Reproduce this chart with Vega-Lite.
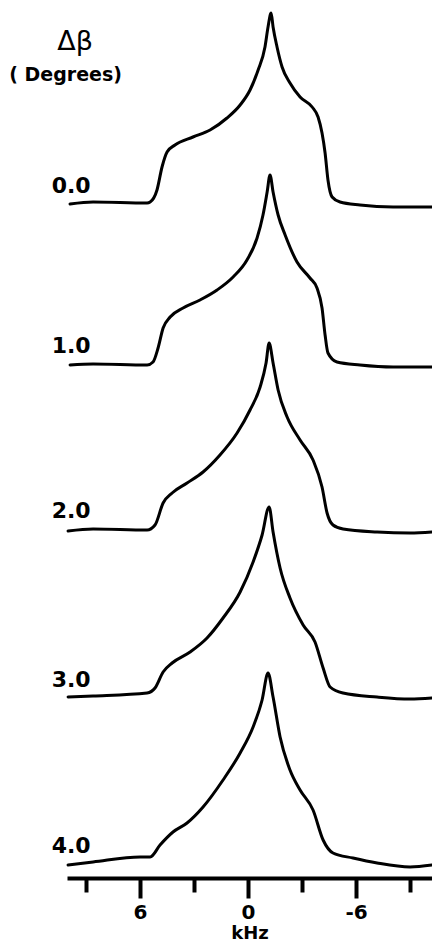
{
  "$schema": "https://vega.github.io/schema/vega-lite/v6.json",
  "width": 365,
  "height": 878,
  "autosize": {"type": "none"},
  "padding": {"left": 67, "top": 0, "right": 0, "bottom": 65},
  "background": "white",
  "config": {"view": {"stroke": null}},
  "datasets": {
    "spectra": [
      {"t":"0.0","k":9.89,"v":674},{"t":"0.0","k":8.61,"v":676},{"t":"0.0","k":5.61,"v":675},{"t":"0.0","k":5.44,"v":676},{"t":"0.0","k":5.06,"v":688},{"t":"0.0","k":4.78,"v":711},{"t":"0.0","k":4.5,"v":726},{"t":"0.0","k":4.06,"v":733},{"t":"0.0","k":3.06,"v":741},{"t":"0.0","k":2.11,"v":748},{"t":"0.0","k":1.17,"v":760},{"t":"0.0","k":0.44,"v":773},{"t":"0.0","k":-0.11,"v":788},{"t":"0.0","k":-0.56,"v":808},{"t":"0.0","k":-0.94,"v":831},{"t":"0.0","k":-1.11,"v":851},{"t":"0.0","k":-1.28,"v":865},{"t":"0.0","k":-1.39,"v":851},{"t":"0.0","k":-1.61,"v":831},{"t":"0.0","k":-1.89,"v":811},{"t":"0.0","k":-2.33,"v":795},{"t":"0.0","k":-2.89,"v":781},{"t":"0.0","k":-3.56,"v":771},{"t":"0.0","k":-3.89,"v":761},{"t":"0.0","k":-4.11,"v":745},{"t":"0.0","k":-4.28,"v":725},{"t":"0.0","k":-4.44,"v":698},{"t":"0.0","k":-4.67,"v":681},{"t":"0.0","k":-5.11,"v":676},{"t":"0.0","k":-6.22,"v":673},{"t":"0.0","k":-8.06,"v":671},{"t":"0.0","k":-10.22,"v":671},
      {"t":"1.0","k":9.89,"v":513},{"t":"1.0","k":8.61,"v":514},{"t":"1.0","k":5.61,"v":513},{"t":"1.0","k":5.28,"v":516},{"t":"1.0","k":5.0,"v":530},{"t":"1.0","k":4.72,"v":550},{"t":"1.0","k":4.33,"v":561},{"t":"1.0","k":3.61,"v":570},{"t":"1.0","k":2.67,"v":578},{"t":"1.0","k":1.72,"v":588},{"t":"1.0","k":0.83,"v":601},{"t":"1.0","k":0.06,"v":618},{"t":"1.0","k":-0.5,"v":640},{"t":"1.0","k":-0.83,"v":663},{"t":"1.0","k":-1.06,"v":686},{"t":"1.0","k":-1.22,"v":703},{"t":"1.0","k":-1.39,"v":686},{"t":"1.0","k":-1.67,"v":663},{"t":"1.0","k":-2.06,"v":643},{"t":"1.0","k":-2.72,"v":616},{"t":"1.0","k":-3.44,"v":600},{"t":"1.0","k":-3.83,"v":590},{"t":"1.0","k":-4.11,"v":570},{"t":"1.0","k":-4.28,"v":543},{"t":"1.0","k":-4.44,"v":525},{"t":"1.0","k":-4.94,"v":516},{"t":"1.0","k":-6.22,"v":513},{"t":"1.0","k":-8.06,"v":511},{"t":"1.0","k":-10.22,"v":511},
      {"t":"2.0","k":10.0,"v":347},{"t":"2.0","k":8.61,"v":349},{"t":"2.0","k":5.61,"v":348},{"t":"2.0","k":5.17,"v":353},{"t":"2.0","k":4.72,"v":375},{"t":"2.0","k":4.22,"v":385},{"t":"2.0","k":3.39,"v":395},{"t":"2.0","k":2.5,"v":406},{"t":"2.0","k":1.56,"v":423},{"t":"2.0","k":0.61,"v":445},{"t":"2.0","k":-0.11,"v":468},{"t":"2.0","k":-0.67,"v":491},{"t":"2.0","k":-1.0,"v":515},{"t":"2.0","k":-1.17,"v":535},{"t":"2.0","k":-1.39,"v":515},{"t":"2.0","k":-1.67,"v":488},{"t":"2.0","k":-2.17,"v":461},{"t":"2.0","k":-2.89,"v":438},{"t":"2.0","k":-3.61,"v":418},{"t":"2.0","k":-4.11,"v":391},{"t":"2.0","k":-4.39,"v":365},{"t":"2.0","k":-4.72,"v":353},{"t":"2.0","k":-5.28,"v":349},{"t":"2.0","k":-7.17,"v":346},{"t":"2.0","k":-9.0,"v":345},{"t":"2.0","k":-10.22,"v":346},
      {"t":"3.0","k":10.0,"v":181},{"t":"3.0","k":8.61,"v":182},{"t":"3.0","k":5.61,"v":185},{"t":"3.0","k":5.17,"v":190},{"t":"3.0","k":4.72,"v":206},{"t":"3.0","k":4.22,"v":215},{"t":"3.0","k":3.22,"v":226},{"t":"3.0","k":2.28,"v":240},{"t":"3.0","k":1.39,"v":260},{"t":"3.0","k":0.44,"v":286},{"t":"3.0","k":-0.28,"v":316},{"t":"3.0","k":-0.78,"v":343},{"t":"3.0","k":-1.17,"v":371},{"t":"3.0","k":-1.39,"v":346},{"t":"3.0","k":-1.78,"v":310},{"t":"3.0","k":-2.33,"v":280},{"t":"3.0","k":-3.06,"v":253},{"t":"3.0","k":-3.72,"v":236},{"t":"3.0","k":-4.17,"v":210},{"t":"3.0","k":-4.56,"v":191},{"t":"3.0","k":-5.28,"v":185},{"t":"3.0","k":-7.17,"v":181},{"t":"3.0","k":-9.0,"v":179},{"t":"3.0","k":-10.22,"v":180},
      {"t":"4.0","k":10.0,"v":13},{"t":"4.0","k":8.61,"v":16},{"t":"4.0","k":6.0,"v":21},{"t":"4.0","k":5.44,"v":21},{"t":"4.0","k":4.89,"v":33},{"t":"4.0","k":4.17,"v":46},{"t":"4.0","k":3.39,"v":55},{"t":"4.0","k":2.5,"v":71},{"t":"4.0","k":1.39,"v":98},{"t":"4.0","k":0.44,"v":125},{"t":"4.0","k":-0.28,"v":151},{"t":"4.0","k":-0.78,"v":178},{"t":"4.0","k":-1.11,"v":205},{"t":"4.0","k":-1.39,"v":181},{"t":"4.0","k":-1.78,"v":141},{"t":"4.0","k":-2.33,"v":108},{"t":"4.0","k":-2.89,"v":88},{"t":"4.0","k":-3.61,"v":68},{"t":"4.0","k":-4.17,"v":38},{"t":"4.0","k":-4.72,"v":25},{"t":"4.0","k":-5.83,"v":20},{"t":"4.0","k":-7.17,"v":15},{"t":"4.0","k":-9.0,"v":11},{"t":"4.0","k":-10.22,"v":13}
    ],
    "labels": [
      {"s":"0.0","k":9.83,"v":685},
      {"s":"1.0","k":9.83,"v":525},
      {"s":"2.0","k":9.83,"v":360},
      {"s":"3.0","k":9.83,"v":191},
      {"s":"4.0","k":9.83,"v":25}
    ]
  },
  "layer": [
    {
      "data": {"name": "spectra"},
      "mark": {"type": "line", "color": "black", "strokeWidth": 3, "strokeJoin": "round", "strokeCap": "round", "interpolate": "monotone"},
      "encoding": {
        "x": {
          "field": "k", "type": "quantitative",
          "scale": {"domain": [10.06, -10.22], "nice": false, "zero": false},
          "axis": {
            "values": [9, 6, 3, 0, -3, -6, -9],
            "labelExpr": "datum.value % 6 === 0 ? '' + datum.value : ''",
            "tickSize": {"condition": {"test": "datum.value % 6 === 0", "value": 20}, "value": 14},
            "tickWidth": 4,
            "tickColor": "black",
            "domainWidth": 4,
            "domainColor": "black",
            "grid": false,
            "labelFont": "DejaVu Sans",
            "labelFontWeight": "bold",
            "labelFontSize": 20,
            "labelColor": "black",
            "labelPadding": 4,
            "labelFlush": false,
            "labelOverlap": false,
            "title": "kHz",
            "titleFont": "DejaVu Sans",
            "titleFontWeight": "bold",
            "titleFontSize": 18,
            "titleColor": "black",
            "titlePadding": 2
          }
        },
        "y": {
          "field": "v", "type": "quantitative",
          "scale": {"domain": [0, 878], "nice": false, "zero": false},
          "axis": null
        },
        "detail": {"field": "t"}
      }
    },
    {
      "data": {"name": "labels"},
      "mark": {"type": "text", "font": "DejaVu Sans", "fontWeight": "bold", "fontSize": 22, "align": "center", "baseline": "alphabetic", "color": "black"},
      "encoding": {
        "x": {"field": "k", "type": "quantitative"},
        "y": {"field": "v", "type": "quantitative"},
        "text": {"field": "s"}
      }
    },
    {
      "data": {"values": [{"s": "Δβ", "k": 9.61, "v": 828}]},
      "mark": {"type": "text", "font": "DejaVu Sans", "fontSize": 27, "align": "center", "baseline": "alphabetic", "color": "black"},
      "encoding": {
        "x": {"field": "k", "type": "quantitative"},
        "y": {"field": "v", "type": "quantitative"},
        "text": {"field": "s"}
      }
    },
    {
      "data": {"values": [{"s": "( Degrees)", "k": 10.14, "v": 797}]},
      "mark": {"type": "text", "font": "DejaVu Sans", "fontWeight": "bold", "fontSize": 19, "align": "center", "baseline": "alphabetic", "color": "black"},
      "encoding": {
        "x": {"field": "k", "type": "quantitative"},
        "y": {"field": "v", "type": "quantitative"},
        "text": {"field": "s"}
      }
    }
  ]
}
